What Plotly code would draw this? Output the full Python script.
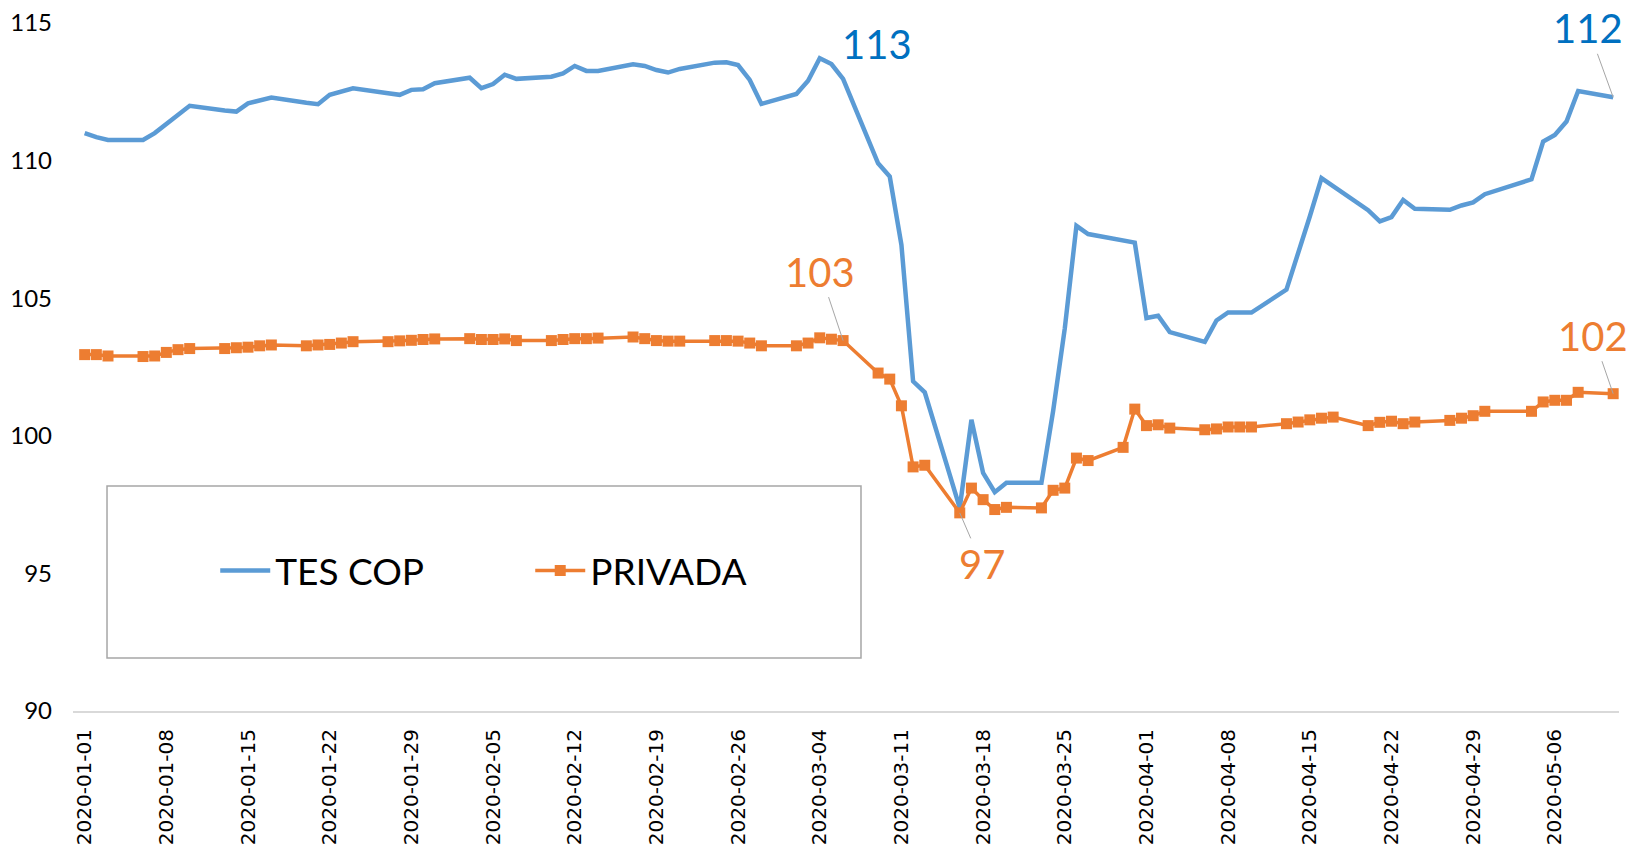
import plotly.graph_objects as go

dates = [
    "2020-01-01", "2020-01-02", "2020-01-03",
    "2020-01-06", "2020-01-07", "2020-01-08", "2020-01-09", "2020-01-10",
    "2020-01-13", "2020-01-14", "2020-01-15", "2020-01-16", "2020-01-17",
    "2020-01-20", "2020-01-21", "2020-01-22", "2020-01-23", "2020-01-24",
    "2020-01-27", "2020-01-28", "2020-01-29", "2020-01-30", "2020-01-31",
    "2020-02-03", "2020-02-04", "2020-02-05", "2020-02-06", "2020-02-07",
    "2020-02-10", "2020-02-11", "2020-02-12", "2020-02-13", "2020-02-14",
    "2020-02-17", "2020-02-18", "2020-02-19", "2020-02-20", "2020-02-21",
    "2020-02-24", "2020-02-25", "2020-02-26", "2020-02-27", "2020-02-28",
    "2020-03-02", "2020-03-03", "2020-03-04", "2020-03-05", "2020-03-06",
    "2020-03-09", "2020-03-10", "2020-03-11", "2020-03-12", "2020-03-13",
    "2020-03-16", "2020-03-17", "2020-03-18", "2020-03-19", "2020-03-20",
    "2020-03-23", "2020-03-24", "2020-03-25", "2020-03-26", "2020-03-27",
    "2020-03-30", "2020-03-31",
    "2020-04-01", "2020-04-02", "2020-04-03",
    "2020-04-06", "2020-04-07", "2020-04-08", "2020-04-09", "2020-04-10",
    "2020-04-13", "2020-04-14", "2020-04-15", "2020-04-16", "2020-04-17",
    "2020-04-20", "2020-04-21", "2020-04-22", "2020-04-23", "2020-04-24",
    "2020-04-27", "2020-04-28", "2020-04-29", "2020-04-30",
    "2020-05-04", "2020-05-05", "2020-05-06", "2020-05-07", "2020-05-08",
    "2020-05-11",
]

tes_cop = [
    111.0, 110.85, 110.75,
    110.75, 111.0, 111.33, 111.66, 111.99,
    111.82, 111.78, 112.08, 112.2, 112.29,
    112.1, 112.05, 112.39, 112.5, 112.63,
    112.45, 112.39, 112.57, 112.59, 112.81,
    113.01, 112.63, 112.78, 113.12, 112.97,
    113.05, 113.17, 113.44, 113.26, 113.26,
    113.5, 113.44, 113.29, 113.2, 113.33,
    113.56, 113.57, 113.47, 112.93, 112.06,
    112.42, 112.9, 113.72, 113.51, 112.97,
    109.9, 109.42, 106.94, 101.98, 101.58,
    97.38, 100.58, 98.65, 97.95, 98.29,
    98.29, 100.9, 103.9, 107.63, 107.33,
    107.1, 107.02,
    104.28, 104.36, 103.77,
    103.41, 104.19, 104.48, 104.48, 104.48,
    105.31, 106.6, 107.97, 109.36, 109.06,
    108.2, 107.79, 107.95, 108.57, 108.25,
    108.21, 108.37, 108.48, 108.78,
    109.32, 110.69, 110.93, 111.42, 112.53,
    112.3,
]

privada = [
    102.95, 102.95, 102.9,
    102.88, 102.9, 103.03, 103.13, 103.17,
    103.17, 103.2, 103.22, 103.27, 103.3,
    103.27, 103.3, 103.32, 103.37, 103.42,
    103.42, 103.45, 103.47, 103.5, 103.52,
    103.53, 103.5, 103.5, 103.52, 103.46,
    103.46, 103.5, 103.53, 103.53, 103.55,
    103.59, 103.53, 103.46, 103.44, 103.44,
    103.46, 103.46, 103.44, 103.37, 103.27,
    103.27, 103.37, 103.56, 103.51, 103.46,
    102.28, 102.06, 101.09, 98.87, 98.93,
    97.2, 98.1, 97.68, 97.32, 97.4,
    97.38, 98.02, 98.1, 99.19, 99.1,
    99.58, 100.97,
    100.37, 100.4, 100.28,
    100.22, 100.25, 100.32, 100.32, 100.32,
    100.44, 100.5, 100.58, 100.64, 100.68,
    100.37, 100.49, 100.53, 100.44, 100.5,
    100.56, 100.64, 100.73, 100.89,
    100.89, 101.23, 101.29, 101.29, 101.58,
    101.53,
]

tick_dates = [
    "2020-01-01", "2020-01-08", "2020-01-15", "2020-01-22", "2020-01-29",
    "2020-02-05", "2020-02-12", "2020-02-19", "2020-02-26", "2020-03-04",
    "2020-03-11", "2020-03-18", "2020-03-25", "2020-04-01", "2020-04-08",
    "2020-04-15", "2020-04-22", "2020-04-29", "2020-05-06",
]

# label: (series, date, text)
label_points = [
    ("tes", "2020-03-04", "113"),
    ("tes", "2020-05-11", "112"),
    ("priv", "2020-03-06", "103"),
    ("priv", "2020-03-16", "97"),
    ("priv", "2020-05-11", "102"),
]

BLUE = "#5B9BD5"
ORANGE = "#ED7D31"
LABEL_BLUE = "#0070C0"

fig = go.Figure()
fig.add_trace(go.Scatter(
    x=dates, y=tes_cop, mode="lines", name="TES COP",
    line=dict(color=BLUE, width=4.5),
))
fig.add_trace(go.Scatter(
    x=dates, y=privada, mode="lines+markers", name="PRIVADA",
    line=dict(color=ORANGE, width=3.5),
    marker=dict(symbol="square", size=11, color=ORANGE),
))

offsets = {
    ("tes", "2020-03-04"): (57, -14, False),
    ("tes", "2020-05-11"): (-25, -69, True),
    ("priv", "2020-03-06"): (-23, -69, True),
    ("priv", "2020-03-16"): (22, 51, True),
    ("priv", "2020-05-11"): (-20, -58, True),
}
for series, d, txt in label_points:
    vals = tes_cop if series == "tes" else privada
    yv = vals[dates.index(d)]
    ax, ay, arrow = offsets[(series, d)]
    color = LABEL_BLUE if series == "tes" else ORANGE
    if arrow:
        fig.add_annotation(
            x=d, y=yv, xref="x", yref="y", text=txt, showarrow=True,
            ax=ax, ay=ay, arrowhead=0, arrowwidth=1, arrowcolor="#A6A6A6",
            standoff=0, font=dict(family="Lato", size=40, color=color),
        )
    else:
        fig.add_annotation(
            x=d, y=yv, xref="x", yref="y", text=txt, showarrow=False,
            xshift=ax, yshift=-ay, font=dict(family="Lato", size=40, color=color),
        )

# legend box
fig.add_shape(
    type="rect", xref="paper", yref="paper",
    x0=0.022, x1=0.5097, y0=0.077, y1=0.327,
    line=dict(color="#A6A6A6", width=1.5), fillcolor="rgba(0,0,0,0)",
)

fig.update_layout(
    width=1638, height=853,
    margin=dict(l=73, r=19, t=23, b=142),
    paper_bgcolor="white", plot_bgcolor="white",
    showlegend=True,
    hovermode=False,
    legend=dict(
        orientation="h", x=0.092, y=0.2035, xanchor="left", yanchor="middle",
        font=dict(family="Lato", size=37, color="#000000"),
        bgcolor="rgba(0,0,0,0)", borderwidth=0,
        itemwidth=50, entrywidth=250, entrywidthmode="pixels",
    ),
    xaxis=dict(
        type="date",
        range=["2019-12-31T00:00", "2020-05-11T12:00"],
        tickvals=tick_dates, ticktext=tick_dates,
        tickangle=-90,
        tickfont=dict(family="DejaVu Sans", size=20, color="#000000"),
        showgrid=False, zeroline=False,
        showline=True, linecolor="#D9D9D9", linewidth=2,
        ticks="", ticklabelstandoff=8, automargin=False,
    ),
    yaxis=dict(
        range=[90, 115], dtick=5, tick0=90,
        tickfont=dict(family="Lato", size=24, color="#000000"),
        showgrid=False, zeroline=False, showline=False,
        ticks="", ticklabelstandoff=20, automargin=False,
    ),
)

fig.write_html(
    "out.html",
    config={"displayModeBar": False},
    post_script="document.body.style.margin='0';document.body.style.padding='0';",
)
